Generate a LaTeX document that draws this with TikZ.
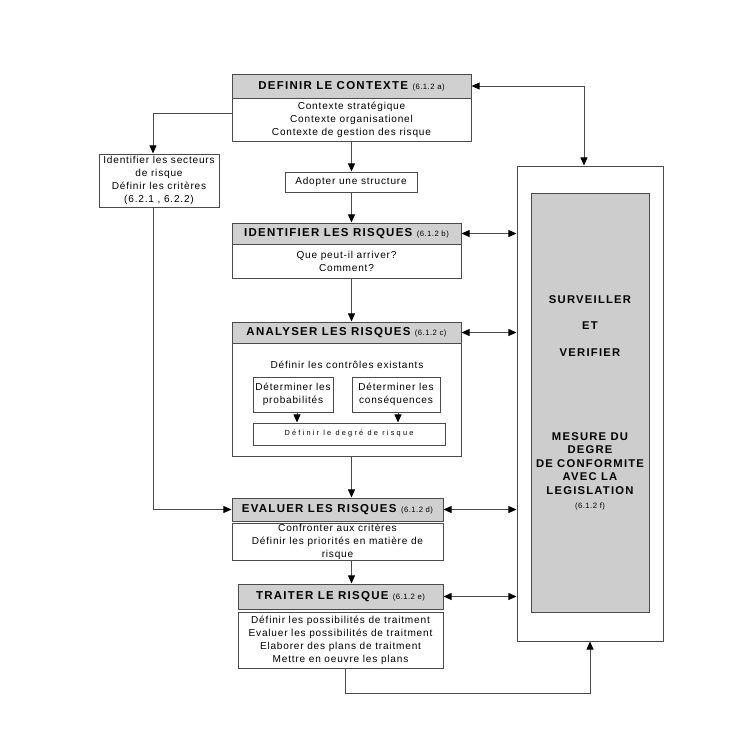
\documentclass[tikz,border=0pt]{standalone}
\usepackage{fontspec}
\setmainfont{Liberation Sans}
\usetikzlibrary{arrows.meta}
\definecolor{linec}{RGB}{75,75,75}
\definecolor{hgray}{RGB}{208,208,208}
\definecolor{igray}{RGB}{205,205,205}
\newcommand\hdrf{\fontsize{9.8}{11}\selectfont\bfseries\addfontfeature{LetterSpace=11}}
\newcommand\refsf{\fontsize{6.6}{8}\selectfont\mdseries\addfontfeature{LetterSpace=6}}
\newcommand\bodyf{\fontsize{8.6}{11.1}\selectfont\addfontfeature{LetterSpace=8}}
\newcommand\tinyf{\fontsize{6.3}{8}\selectfont\addfontfeature{LetterSpace=30}}
\newcommand\grayf{\fontsize{9.6}{11.6}\selectfont\bfseries\addfontfeature{LetterSpace=11}}
\newcommand\bx[7]{\node[#1, minimum width={(#5-#3)*0.03cm}, minimum height={(#6-#4)*0.03cm}] (#2) at ({(#3+#5)/2},{(#4+#6)/2}) {#7};}
\tikzset{
  base/.style={draw=linec, line width=0.85pt, inner sep=0pt, align=center, font=\bodyf},
  hdr/.style={base, fill=hgray, font=\hdrf},
  bodybox/.style={base, fill=white},
  conn/.style={draw=linec, line width=0.85pt},
  tip/.tip={Triangle[length=7pt,width=6pt,black]},
  arr/.style={conn, -tip},
  darr/.style={conn, tip-tip},
  lbl/.style={inner sep=0pt, align=center}
}
\begin{document}
\begin{tikzpicture}[x=0.03cm,y=-0.03cm]
\useasboundingbox (0,0) rectangle (750,745);
% monitoring box
\bx{base}{O}{517}{166}{663}{641}{}
\bx{base, fill=igray}{I}{531}{193}{649}{612}{}
\node[lbl, font=\grayf] (t1) at (590,300) {SURVEILLER};
\node[lbl, font=\grayf] (t2) at (590,326) {ET};
\node[lbl, font=\grayf] (t3) at (590,353) {VERIFIER};
\node[lbl, font=\grayf] (t4) at (590,471) {MESURE DU\\DEGRE\\DE CONFORMITE\\AVEC LA\\LEGISLATION\\{\refsf(6.1.2 f)}};
% A
\bx{hdr}{hA}{232}{74}{471}{98}{DEFINIR LE CONTEXTE {\refsf(6.1.2 a)}}
\bx{bodybox}{bA}{232}{98}{471}{141}{Contexte stratégique\\Contexte organisationel\\Contexte de gestion des risque}
% left box
\bx{bodybox}{L}{99}{154}{219}{207}{Identifier les secteurs\\de risque\\Définir les critères\\(6.2.1 , 6.2.2)}
% structure
\bx{bodybox}{S}{285}{172}{417}{192}{Adopter une structure}
% B
\bx{hdr}{hB}{232}{223}{461}{244}{IDENTIFIER LES RISQUES {\refsf(6.1.2 b)}}
\bx{bodybox}{bB}{232}{244}{461}{278}{Que peut-il arriver?\\Comment?}
% C
\bx{hdr}{hC}{232}{322}{461}{343}{ANALYSER LES RISQUES {\refsf(6.1.2 c)}}
\bx{bodybox}{bC}{232}{343}{461}{456}{}
\node[lbl, font=\bodyf] (cT) at (347,365) {Définir les contrôles existants};
\bx{bodybox}{c1}{253}{377}{333}{412}{Déterminer les\\probabilités}
\bx{bodybox}{c2}{352}{377}{440}{412}{Déterminer les\\conséquences}
\bx{bodybox, font=\tinyf}{c3}{253}{423}{445}{445}{Définir le degré de risque}
% D
\bx{hdr}{hD}{232}{498}{443}{521}{EVALUER LES RISQUES {\refsf(6.1.2 d)}}
\bx{bodybox}{bD}{232}{523}{443}{560}{Confronter aux critères\\Définir les priorités en matière de\\risque}
% E
\bx{hdr}{hE}{238}{584}{443}{609}{TRAITER LE RISQUE {\refsf(6.1.2 e)}}
\bx{bodybox}{bE}{238}{612}{443}{668}{Définir les possibilités de traitment\\Evaluer les possibilités de traitment\\Elaborer des plans de traitment\\Mettre en oeuvre les plans}
% helper coordinates
\coordinate (lx) at (153,113);
\coordinate (tx) at (584,0);
\coordinate (q1) at (345,693);
\coordinate (q2) at (590,693);
\coordinate (a1) at (297,0);
\coordinate (a2) at (398,0);
% connectors
\draw[arr] (bA.west |- lx) -| (lx |- L.north);
\draw[arr] (lx |- L.south) |- (hD.west);
\draw[darr] (hA.east) -| (tx |- O.north);
\draw[arr] (bA.south) -- (bA.south |- S.north);
\draw[arr] (bA.south |- S.south) -- (bA.south |- hB.north);
\draw[arr] (bA.south |- bB.south) -- (bA.south |- hC.north);
\draw[arr] (bA.south |- bC.south) -- (bA.south |- hD.north);
\draw[arr] (bA.south |- bD.south) -- (bA.south |- hE.north);
\draw[arr] (a1 |- c1.south) -- (a1 |- c3.north);
\draw[arr] (a2 |- c2.south) -- (a2 |- c3.north);
\draw[darr] (hB.east) -- (hB.east -| O.west);
\draw[darr] (hC.east) -- (hC.east -| O.west);
\draw[darr] (hD.east) -- (hD.east -| O.west);
\draw[darr] (hE.east) -- (hE.east -| O.west);
\draw[arr] (q1 |- bE.south) -- (q1) -- (q2) -- (q2 |- O.south);
\end{tikzpicture}
\end{document}
